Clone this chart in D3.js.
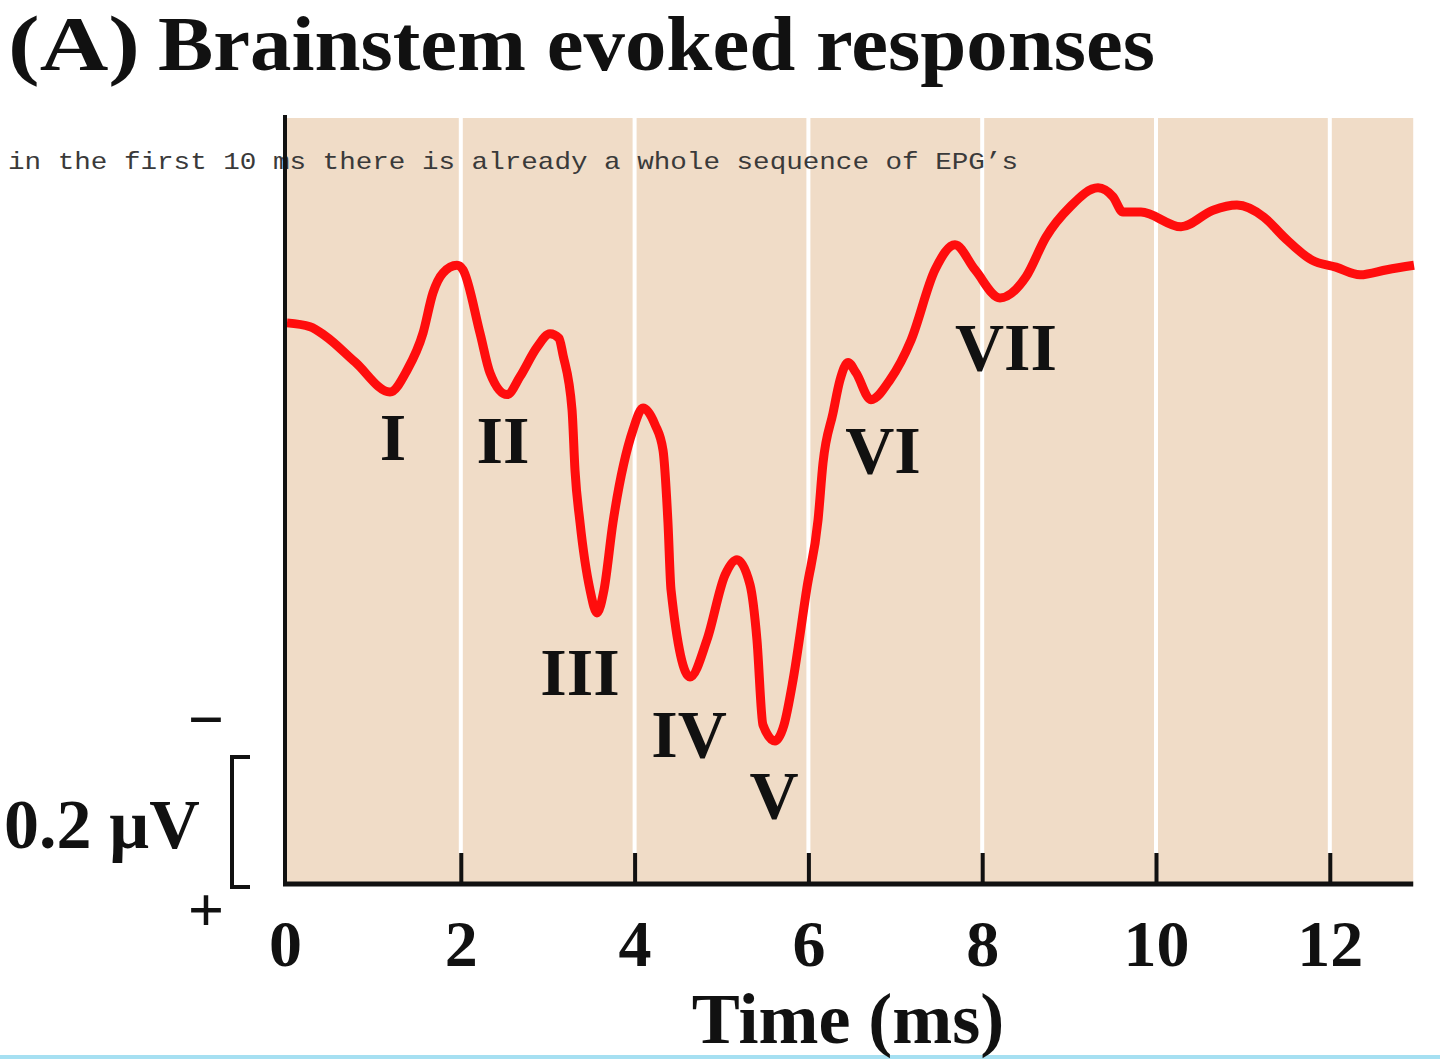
<!DOCTYPE html>
<html>
<head>
<meta charset="utf-8">
<script src="https://cdn.jsdelivr.net/npm/d3@7"></script>
<style>
  html, body { margin: 0; padding: 0; background: #ffffff; }
  svg { display: block; }
</style>
</head>
<body>
<svg id="chart" width="1440" height="1059"></svg>
<script>
// ---------------- DATA ----------------
const title = "Brainstem evoked responses";
const panelLabel = "(A)";
const note = "in the first 10 ms there is already a whole sequence of EPG\u2019s";
const xAxisTitle = "Time (ms)";
const scaleBarLabel = "0.2 \u00b5V";
const scaleBarValue = 0.2; // µV

// Time in ms
const times = [0.000, 0.265, 0.437, 0.782, 1.185, 1.381, 1.565, 1.680, 1.795, 1.956, 2.025,
  2.221, 2.336, 2.532, 2.681, 2.877, 3.026, 3.130, 3.176, 3.280, 3.314,
  3.372, 3.487, 3.567, 3.648, 3.751, 3.982, 4.097, 4.235, 4.327, 4.384,
  4.419, 4.638, 4.833, 5.040, 5.178, 5.328, 5.408, 5.477, 5.616, 5.719,
  5.823, 5.984, 6.111, 6.168, 6.283, 6.364, 6.456, 6.548, 6.720, 6.939,
  7.181, 7.457, 7.687, 7.917, 8.205, 8.504, 8.734, 9.010, 9.333, 9.505,
  9.620, 9.827, 10.288, 10.656, 10.932, 11.243, 11.473, 11.795, 12.071, 12.348,
  12.658, 12.969];
// Potential in µV (negative plotted upward)
const volts = [0.000, 0.006, 0.020, 0.061, 0.108, 0.074, 0.016, -0.047, -0.078, -0.090, -0.083,
  0.016, 0.078, 0.112, 0.084, 0.038, 0.017, 0.024, 0.050, 0.136, 0.230,
  0.312, 0.417, 0.453, 0.417, 0.312, 0.167, 0.133, 0.159, 0.199, 0.312,
  0.417, 0.553, 0.495, 0.394, 0.370, 0.409, 0.495, 0.628, 0.653, 0.628,
  0.558, 0.413, 0.308, 0.219, 0.141, 0.089, 0.062, 0.078, 0.120, 0.089,
  0.027, -0.083, -0.122, -0.083, -0.039, -0.072, -0.134, -0.181, -0.211, -0.197,
  -0.173, -0.173, -0.150, -0.176, -0.184, -0.165, -0.134, -0.098, -0.087, -0.075,
  -0.083, -0.090];

// Wave labels (anchor in data units: time ms, potential µV at text baseline)
const waveNames = ["I", "II", "III", "IV", "V", "VI", "VII"];
const waveTimes = [1.22, 2.486, 3.372, 4.626, 5.604, 6.858, 8.274];
const waveVolts = [0.214, 0.219, 0.581, 0.678, 0.773, 0.234, 0.0736];

const xTicks = [0, 2, 4, 6, 8, 10, 12];
const xDomain = [0, 12.96];
const yDomain = [-0.32, 0.878];

// ---------------- LAYOUT ----------------
const svg = d3.select("#chart");
const plot = { left: 287, top: 118, bottom: 885 };
const x = d3.scaleLinear().domain(xDomain).range([plot.left, plot.left + 86.9 * xDomain[1]]);
const y = d3.scaleLinear().domain(yDomain).range([plot.top, plot.bottom]);
const serif = "'Liberation Serif', 'Times New Roman', serif";

// bottom cyan strip
svg.append("rect").attr("x", 0).attr("y", 1055).attr("width", 1440).attr("height", 4)
  .attr("fill", "#a6e0f2");

// plot background
svg.append("rect")
  .attr("x", x(0)).attr("y", plot.top)
  .attr("width", x(xDomain[1]) - x(0)).attr("height", plot.bottom - plot.top)
  .attr("fill", "#f0dcc7");

// white vertical grid lines
svg.append("g").selectAll("line").data(xTicks.filter(d => d > 0)).join("line")
  .attr("x1", d => x(d)).attr("x2", d => x(d))
  .attr("y1", plot.top).attr("y2", plot.bottom - 32)
  .attr("stroke", "#ffffff").attr("stroke-width", 4);

// annotation text
svg.append("text")
  .attr("x", 8).attr("y", 169)
  .attr("font-family", "'Liberation Mono', 'Courier New', monospace")
  .attr("font-size", 24)
  .attr("fill", "#3a3a3a")
  .attr("textLength", 1010).attr("lengthAdjust", "spacingAndGlyphs")
  .text(note);

// waveform
const line = d3.line()
  .x((d, i) => x(times[i]))
  .y((d, i) => y(volts[i]))
  .curve(d3.curveMonotoneX);
svg.append("path")
  .datum(times)
  .attr("d", line)
  .attr("fill", "none")
  .attr("stroke", "#ff0d0d")
  .attr("stroke-width", 9)
  .attr("stroke-linejoin", "round");

// x axis
const xAxis = d3.axisBottom(x).tickValues(xTicks).tickSize(-32).tickSizeOuter(0).tickFormat(d3.format("d"));
const gx = svg.append("g").attr("transform", `translate(0,${plot.bottom})`).call(xAxis);
gx.select(".domain").remove();
gx.selectAll(".tick line").attr("stroke", "#111").attr("stroke-width", 4)
  .filter(d => d === 0).remove();
gx.selectAll(".tick text")
  .attr("y", 81).attr("dy", 0)
  .attr("font-family", serif).attr("font-size", 66).attr("font-weight", "bold")
  .attr("fill", "#111");
gx.selectAll(".tick").filter(d => d === 0).select("text").attr("dx", -2);

// axis lines
svg.append("line")
  .attr("x1", x(0) - 4).attr("x2", x(xDomain[1]))
  .attr("y1", plot.bottom - 1).attr("y2", plot.bottom - 1)
  .attr("stroke", "#111").attr("stroke-width", 5);
svg.append("line")
  .attr("x1", x(0) - 2).attr("x2", x(0) - 2)
  .attr("y1", plot.top - 3).attr("y2", plot.bottom)
  .attr("stroke", "#111").attr("stroke-width", 4);

// wave labels
svg.append("g").selectAll("text").data(waveNames).join("text")
  .attr("x", (d, i) => x(waveTimes[i]))
  .attr("y", (d, i) => y(waveVolts[i]))
  .attr("text-anchor", "middle")
  .attr("font-family", serif).attr("font-size", 68).attr("font-weight", "bold")
  .attr("fill", "#111")
  .text(d => d);

// scale bar
const sbBottom = y(yDomain[1]);
const sbTop = y(yDomain[1] - scaleBarValue);
svg.append("path")
  .attr("d", `M250,${sbTop} H232 V${sbBottom + 2} H250`)
  .attr("fill", "none").attr("stroke", "#111").attr("stroke-width", 4);
svg.append("text").attr("x", 4).attr("y", 848)
  .attr("font-family", serif).attr("font-size", 70).attr("font-weight", "bold")
  .attr("fill", "#111").text(scaleBarLabel);
svg.append("text").attr("x", 206).attr("y", 741).attr("text-anchor", "middle")
  .attr("font-family", serif).attr("font-size", 64).attr("font-weight", "bold")
  .attr("fill", "#111").text("\u2212");
svg.append("text").attr("x", 206).attr("y", 931).attr("text-anchor", "middle")
  .attr("font-family", serif).attr("font-size", 64).attr("font-weight", "bold")
  .attr("fill", "#111").text("+");

// x axis title
svg.append("text").attr("x", 848).attr("y", 1043).attr("text-anchor", "middle")
  .attr("font-family", serif).attr("font-size", 72).attr("font-weight", "bold")
  .attr("fill", "#111").text(xAxisTitle);

// title
svg.append("text").attr("x", 8).attr("y", 70)
  .attr("font-family", serif).attr("font-size", 78).attr("font-weight", "bold")
  .attr("fill", "#111")
  .attr("textLength", 132).attr("lengthAdjust", "spacingAndGlyphs")
  .text(panelLabel);
svg.append("text").attr("x", 158).attr("y", 70)
  .attr("font-family", serif).attr("font-size", 78).attr("font-weight", "bold")
  .attr("fill", "#111")
  .attr("textLength", 997).attr("lengthAdjust", "spacingAndGlyphs")
  .text(title);
</script>
</body>
</html>
